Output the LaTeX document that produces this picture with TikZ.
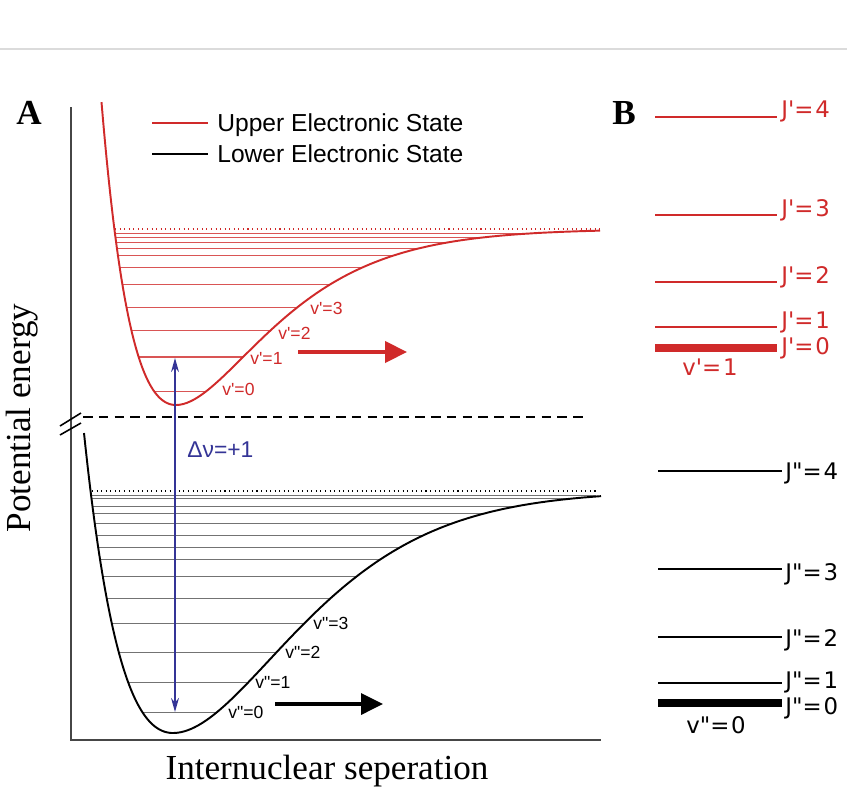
\documentclass[tikz,border=0pt]{standalone}
\usepackage{fontspec}
\setmainfont{Liberation Serif}
\setsansfont{Liberation Sans}
\newfontfamily\jfont[LetterSpace=8]{DejaVu Sans}
\usetikzlibrary{
    arrows.meta,
    positioning,
    calc
}
\definecolor{upperred}{RGB}{208,42,42}
\definecolor{dvblue}{RGB}{52,52,150}
\definecolor{axisgray}{RGB}{70,70,70}
\newcommand{\qs}{\textquotesingle}
\newcommand{\qd}{\textquotedbl}
\tikzset{
    % --- Potential energy curves ---
    upper curve/.style = {
        draw=upperred, line width=1.1pt
    },
    lower curve/.style = {
        draw=black, line width=1.1pt
    },
    % --- Vibrational level lines inside the wells ---
    upper level/.style = {
        draw=upperred!80, line width=0.45pt
    },
    lower level/.style = {
        draw=black!55, line width=0.5pt
    },
    % --- Dissociation limit ---
    limit line/.style = {
        dotted, line width=0.6pt
    },
    % --- Axes and break ---
    axis line/.style = {
        draw=axisgray, line width=0.9pt
    },
    break line/.style = {
        dashed, line width=1.2pt, dash pattern=on 5.5pt off 3.5pt
    },
    % --- Arrows ---
    dv arrow/.style = {
        arrows={Stealth[length=8pt,width=4.5pt]-Stealth[length=8pt,width=4.5pt]},
        draw=dvblue, line width=0.7pt
    },
    shift arrow/.style = {
        arrows={-Triangle[length=12.5pt,width=12pt]}, line width=2.2pt
    },
    % --- Text ---
    vlabel/.style = {
        font=\sffamily\fontsize{10}{12}\selectfont,
        inner sep=0pt, anchor=west
    },
    jlabel/.style = {
        font=\jfont\fontsize{13}{15}\selectfont,
        inner sep=0pt, anchor=west
    },
    legend text/.style = {
        font=\sffamily\fontsize{14}{16}\selectfont,
        inner sep=0pt, anchor=west
    },
    axis title/.style = {
        font=\rmfamily\fontsize{20}{24}\selectfont, inner sep=0pt
    },
    panel tag/.style = {
        font=\rmfamily\bfseries\fontsize{20}{24}\selectfont, inner sep=0pt
    },
    % --- Rotational levels (panel B) ---
    rot level/.style = {
        line width=0.8pt
    }
}

\begin{document}
\begin{tikzpicture}[x=0.02cm, y=-0.02cm, >=Stealth, font=\sffamily]

\fill[white] (0,0) rectangle (847,794);
\useasboundingbox (0,0) rectangle (847,794);

% ---------------------------------------------------------
% Page rule
% ---------------------------------------------------------
\coordinate (RuleL) at (0,49);
\coordinate (RuleR) at (847,49);
\draw[black!14, line width=1.5pt] (RuleL) -- (RuleR);

% ---------------------------------------------------------
% Panel A: axes
% ---------------------------------------------------------
\coordinate (YTop)   at (71,107);
\coordinate (Origin) at (71,740);
\coordinate (XEnd)   at (601,740);
\draw[axis line] (YTop) -- (Origin) -- (XEnd);

% axis break
\draw[black, line width=0.9pt] (60,426) -- (81,413);
\draw[black, line width=0.9pt] (60,435) -- (81,423);
\coordinate (BreakL) at (83,417);
\coordinate (BreakR) at (588,417);
\draw[break line] (BreakL) -- (BreakR);

\node[panel tag] (TagA) at (29,113) {A};
\node[axis title, rotate=90] (YTitle) at (22,418) {Potential energy};
\node[axis title] (XTitle) at (327,771) {Internuclear seperation};

% ---------------------------------------------------------
% Upper state: levels and curve
% ---------------------------------------------------------
\foreach \lev in {391,357,330,307,284,267,255,248,242,237,233} {
    \pgfmathsetmacro{\lvS}{sqrt((405-\lev)/176)}
    \pgfmathsetmacro{\lvL}{-ln(1-\lvS)}
    \pgfmathsetmacro{\xL}{176-100*ln(1+\lvS)/1.125}
    \pgfmathsetmacro{\xR}{min(596,176+100*(-1.071+sqrt(1.071*1.071+4*0.0454*\lvL))/(2*0.0454))}
    \pgfmathsetmacro{\lw}{\lev==357 ? 1.1 : 0.45}
    \draw[upper level, line width=\lw pt] (\xL,\lev) -- (\xR,\lev);
}
\coordinate (UpLimL) at (115,229);
\coordinate (UpLimR) at (600,229);
\draw[limit line, upperred] (UpLimL) -- (UpLimR);

\draw[upper curve] plot[domain=101.5:176, samples=60]
    (\x, {405-176*(1-exp(-1.125*(\x-176)/100))*(1-exp(-1.125*(\x-176)/100))})
    -- plot[domain=176:600, samples=120]
    (\x, {405-176*(1-exp(-(1.071*(\x-176)/100+0.0454*((\x-176)/100)^2)))*(1-exp(-(1.071*(\x-176)/100+0.0454*((\x-176)/100)^2)))});

% ---------------------------------------------------------
% Lower state: levels and curve
% ---------------------------------------------------------
\foreach \lev in {712,682,652,623,598,576,559,547,535,523,513,506,498,495} {
    \pgfmathsetmacro{\lvS}{sqrt((733-\lev)/242)}
    \pgfmathsetmacro{\lvL}{-ln(1-\lvS)}
    \pgfmathsetmacro{\xL}{173-100*ln(1+\lvS)/0.8408}
    \pgfmathsetmacro{\xR}{min(596,173+100*(-0.76+sqrt(0.76*0.76+4*0.07*\lvL))/(2*0.07))}
    \draw[lower level] (\xL,\lev) -- (\xR,\lev);
}
\coordinate (LoLimL) at (92,491);
\coordinate (LoLimR) at (596,491);
\draw[limit line, black] (LoLimL) -- (LoLimR);

\draw[lower curve] plot[domain=84:173, samples=60]
    (\x, {733-242*(1-exp(-0.8408*(\x-173)/100))*(1-exp(-0.8408*(\x-173)/100))})
    -- plot[domain=173:601, samples=120]
    (\x, {733-242*(1-exp(-(0.76*(\x-173)/100+0.07*((\x-173)/100)^2)))*(1-exp(-(0.76*(\x-173)/100+0.07*((\x-173)/100)^2)))});

% ---------------------------------------------------------
% Vibrational labels
% ---------------------------------------------------------
\node[vlabel, text=upperred] (VUp0) at (222,389) {v\qs=0};
\node[vlabel, text=upperred] (VUp1) at (250,358) {v\qs=1};
\node[vlabel, text=upperred] (VUp2) at (278,333) {v\qs=2};
\node[vlabel, text=upperred] (VUp3) at (310,308) {v\qs=3};

\node[vlabel] (VLo0) at (228,712) {v\qd=0};
\node[vlabel] (VLo1) at (255,682) {v\qd=1};
\node[vlabel] (VLo2) at (285,652) {v\qd=2};
\node[vlabel] (VLo3) at (313,623) {v\qd=3};

% ---------------------------------------------------------
% Transition and shift arrows
% ---------------------------------------------------------
\coordinate (DvLow) at (175,712);
\coordinate (DvUp)  at (175,358);
\draw[dv arrow] (DvLow) -- (DvUp);
\node[legend text, text=dvblue, font=\sffamily\fontsize{13}{15}\selectfont]
    (DvText) at (187,450) {Δν=+1};

\coordinate (UpShiftA) at (298,352);
\coordinate (UpShiftB) at (407,352);
\draw[shift arrow, upperred] (UpShiftA) -- (UpShiftB);

\coordinate (LoShiftA) at (275,704);
\coordinate (LoShiftB) at (383,704);
\draw[shift arrow, black, line width=1.8pt] (LoShiftA) -- (LoShiftB);

% ---------------------------------------------------------
% Legend
% ---------------------------------------------------------
\coordinate (LegUpA) at (152,123);
\coordinate (LegUpB) at (208,123);
\draw[upperred, line width=0.9pt] (LegUpA) -- (LegUpB);
\node[legend text, right=0.18cm of LegUpB, yshift=-0.04cm] (LegUpText) {Upper Electronic State};

\coordinate (LegLoA) at (152,154);
\coordinate (LegLoB) at (208,154);
\draw[black, line width=0.9pt] (LegLoA) -- (LegLoB);
\node[legend text, right=0.18cm of LegLoB] (LegLoText) {Lower Electronic State};

% ---------------------------------------------------------
% Panel B: rotational levels
% ---------------------------------------------------------
\node[panel tag] (TagB) at (624,113) {B};

% upper state, v'=1
\foreach \jn/\jy/\ty/\jw in {4/117/111/0.8, 3/215/210/0.8, 2/282/277/0.8, 1/327/322/0.8, 0/348/348/4} {
    \coordinate (JuA\jn) at (655,\jy);
    \coordinate (JuB\jn) at (777,\jy);
    \draw[rot level, upperred, line width=\jw pt] (JuA\jn) -- (JuB\jn);
    \node[jlabel, text=upperred] (JuT\jn) at (781,\ty) {J\qs=\jn};
}
\node[jlabel, anchor=center, text=upperred] (VUpB) at (710,367) {v\qs=1};

% lower state, v''=0
\foreach \jn/\jy/\ty/\jw in {4/471/473/1.1, 3/569/574/0.7, 2/637/640/0.7, 1/683/682/1.1, 0/703/708/4.5} {
    \coordinate (JlA\jn) at (658,\jy);
    \coordinate (JlB\jn) at (782,\jy);
    \draw[rot level, black, line width=\jw pt] (JlA\jn) -- (JlB\jn);
    \node[jlabel] (JlT\jn) at (785,\ty) {J\qd=\jn};
}
\node[jlabel, anchor=center] (VLoB) at (716,725) {v\qd=0};

\end{tikzpicture}
\end{document}
